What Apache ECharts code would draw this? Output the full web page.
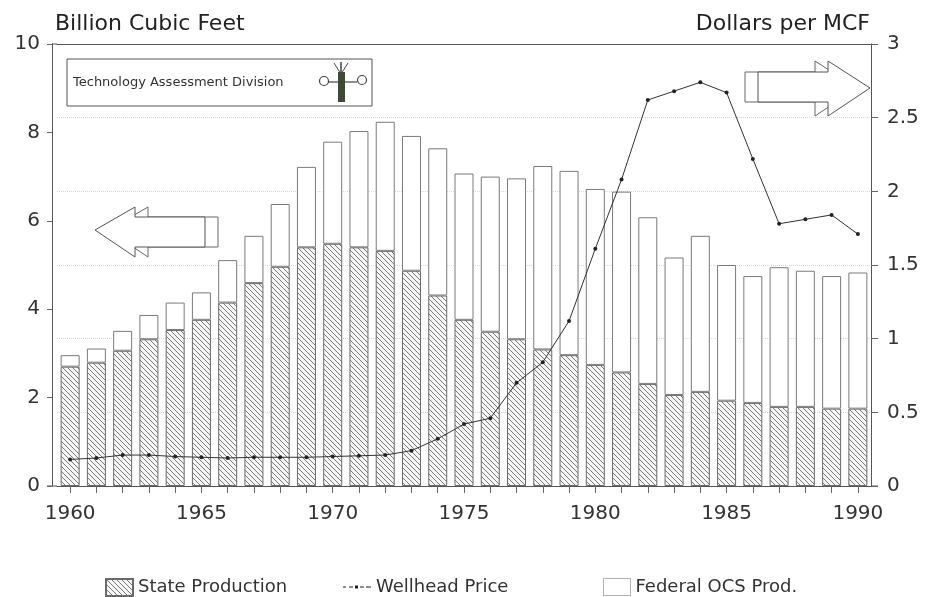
<!DOCTYPE html>
<html>
<head>
<meta charset="utf-8">
<script src="https://cdn.jsdelivr.net/npm/echarts@6/dist/echarts.min.js"></script>
<style>
  html, body { margin: 0; padding: 0; background: #fff; }
  #chart { width: 931px; height: 597px; }
</style>
</head>
<body>
<div id="chart"></div>
<script>
// years on the category axis
const years = ['1960', '1961', '1962', '1963', '1964', '1965', '1966', '1967', '1968', '1969',
  '1970', '1971', '1972', '1973', '1974', '1975', '1976', '1977', '1978', '1979',
  '1980', '1981', '1982', '1983', '1984', '1985', '1986', '1987', '1988', '1989', '1990']

// billion cubic feet
const stateProd = [2.70, 2.79, 3.06, 3.32, 3.53, 3.76, 4.15, 4.59, 4.96, 5.40,
  5.48, 5.40, 5.32, 4.87, 4.31, 3.76, 3.49, 3.32, 3.09, 2.96,
  2.74, 2.57, 2.31, 2.06, 2.13, 1.93, 1.88, 1.79, 1.79, 1.75, 1.75]
const federalProd = [0.26, 0.32, 0.45, 0.55, 0.62, 0.62, 0.96, 1.07, 1.42, 1.82,
  2.31, 2.63, 2.92, 3.05, 3.33, 3.31, 3.51, 3.64, 4.15, 4.17,
  3.98, 4.09, 3.77, 3.11, 3.53, 3.07, 2.87, 3.16, 3.08, 3.00, 3.08]

// dollars per MCF
const wellheadPrice = [0.18, 0.19, 0.21, 0.21, 0.20, 0.195, 0.19, 0.195, 0.195, 0.195,
  0.20, 0.205, 0.21, 0.24, 0.32, 0.42, 0.46, 0.70, 0.84, 1.12,
  1.61, 2.08, 2.62, 2.68, 2.74, 2.67, 2.22, 1.78, 1.81, 1.84, 1.71]

// hatch fill for state production
function hatch() {
  const s = 5
  const c = document.createElement('canvas')
  c.width = s
  c.height = s
  const ctx = c.getContext('2d')
  ctx.fillStyle = '#f6f6f6'
  ctx.fillRect(0, 0, s, s)
  ctx.strokeStyle = '#7a7a7a'
  ctx.lineWidth = 1
  for (let k = -1; k <= 1; k++) {
    ctx.beginPath()
    ctx.moveTo(k * s, 0)
    ctx.lineTo(k * s + s, s)
    ctx.stroke()
  }
  return c
}

const font = 'DejaVu Sans'
const hatchFill = { image: hatch(), repeat: 'repeat' }
const myChart = echarts.init(document.getElementById('chart'))

// 3d-ish block arrows of the original slide
function arrow(points, dx) {
  const back = points.map(p => [p[0] + dx, p[1]])
  return [
    { type: 'polygon', shape: { points: back }, style: { fill: '#fff', stroke: '#666', lineWidth: 1 }, z: 20 },
    { type: 'polygon', shape: { points: points }, style: { fill: '#fff', stroke: '#555', lineWidth: 1 }, z: 21 }
  ]
}
const leftArrow = [[95, 230], [135, 207], [135, 217], [205, 217], [205, 247], [135, 247], [135, 257]]
const rightArrow = [[870, 88], [828, 61], [828, 72], [758, 72], [758, 102], [828, 102], [828, 116]]
// dash-dot-dash legend mark for the price line
const priceIcon = 'path://M0,1h3v1h-3z M6,1h4v1h-4z M12,0h3v3h-3z M17,1h4v1h-4z M23,1h5v1h-5z'
const legendText = { fontFamily: font, fontSize: 18, color: '#333' }

myChart.setOption({
  backgroundColor: '#fff',
  animation: false,
  title: [
    { text: 'Billion Cubic Feet', left: 50, top: 8, textStyle: { fontFamily: font, fontSize: 22, fontWeight: 'normal', color: '#222' } },
    { text: 'Dollars per MCF', right: 56, top: 8, textStyle: { fontFamily: font, fontSize: 22, fontWeight: 'normal', color: '#222' } }
  ],
  grid: { left: 57, right: 60, top: 44, bottom: 111 },
  legend: [
    { data: [{ name: 'State Production', icon: 'rect' }], left: 100, top: 573, itemWidth: 27, itemHeight: 17, textStyle: legendText },
    { data: [{ name: 'Wellhead Price', icon: priceIcon }], left: 338, top: 573, itemWidth: 28, itemHeight: 17, textStyle: legendText },
    { data: [{ name: 'Federal OCS Prod.', icon: 'rect', itemStyle: { color: '#fff', borderColor: '#666', borderType: 'dotted', borderWidth: 1 } }],
      left: 598, top: 573, itemWidth: 27, itemHeight: 17, textStyle: legendText }
  ],
  xAxis: [
    {
      type: 'category',
      data: years,
      axisLine: { onZero: false, lineStyle: { color: '#555' } },
      axisTick: { show: true, alignWithLabel: true, interval: 0, length: 7, lineStyle: { color: '#666' } },
      axisLabel: { interval: 4, fontFamily: font, fontSize: 20, color: '#333', margin: 18 },
      splitLine: { show: false }
    },
    {
      // top frame line
      type: 'category', position: 'top', data: years,
      axisLine: { show: true, onZero: false, lineStyle: { color: '#555' } },
      axisTick: { show: false }, axisLabel: { show: false }
    }
  ],
  yAxis: [
    {
      type: 'value', min: 0, max: 10, interval: 2, offset: 5,
      axisLine: { show: true, lineStyle: { color: '#555' } },
      axisTick: { show: true, length: 5, lineStyle: { color: '#666' } },
      axisLabel: { fontFamily: font, fontSize: 20, color: '#333', margin: 12 },
      splitLine: { show: false }
    },
    {
      type: 'value', min: 0, max: 3, interval: 0.5, position: 'right',
      axisLine: { show: true, lineStyle: { color: '#555' } },
      axisTick: { show: true, length: 7, lineStyle: { color: '#666' } },
      axisLabel: { fontFamily: font, fontSize: 20, color: '#333', margin: 16 },
      splitLine: { show: true, lineStyle: { color: '#d8d8d8', type: 'dotted' } }
    }
  ],
  graphic: [
    { type: 'line', shape: { x1: 52, y1: 44, x2: 57, y2: 44 }, style: { stroke: '#555', lineWidth: 1 } },
    { type: 'line', shape: { x1: 47, y1: 486, x2: 57, y2: 486 }, style: { stroke: '#555', lineWidth: 1 } },
    { type: 'line', shape: { x1: 871, y1: 486, x2: 878, y2: 486 }, style: { stroke: '#555', lineWidth: 1 } },
    { type: 'rect', shape: { x: 67, y: 59, width: 305, height: 47 }, style: { fill: '#fff', stroke: '#555', lineWidth: 1 }, z: 20 },
    { type: 'text', x: 73, y: 83, style: { text: 'Technology Assessment Division', font: '13px "DejaVu Sans"', fill: '#333', verticalAlign: 'middle' }, z: 21 },
    // little emblem next to the division name
    { type: 'circle', shape: { cx: 324, cy: 81, r: 4.5 }, style: { fill: 'none', stroke: '#444', lineWidth: 1.2 }, z: 21 },
    { type: 'circle', shape: { cx: 362, cy: 80, r: 4.5 }, style: { fill: 'none', stroke: '#444', lineWidth: 1.2 }, z: 21 },
    { type: 'line', shape: { x1: 328, y1: 82, x2: 357, y2: 82 }, style: { stroke: '#444', lineWidth: 1.2 }, z: 21 },
    { type: 'rect', shape: { x: 338, y: 72, width: 7, height: 30 }, style: { fill: '#3d4a35' }, z: 21 },
    { type: 'polyline', shape: { points: [[334, 63], [341, 74], [341, 62], [341, 74], [348, 63]] }, style: { stroke: '#444', lineWidth: 1, fill: 'none' }, z: 21 }
  ].concat(arrow(leftArrow, 13), arrow(rightArrow, -13)),
  series: [
    {
      name: 'State Production',
      type: 'bar',
      stack: 'gas',
      barWidth: 19,
      data: stateProd,
      itemStyle: { color: hatchFill, borderColor: '#6a6a6a', borderWidth: 1 }
    },
    {
      name: 'Federal OCS Prod.',
      type: 'bar',
      stack: 'gas',
      barWidth: 19,
      data: federalProd,
      itemStyle: { color: '#fff', borderColor: '#7a7a7a', borderWidth: 1 }
    },
    {
      name: 'Wellhead Price',
      type: 'line',
      yAxisIndex: 1,
      data: wellheadPrice,
      symbol: 'circle',
      symbolSize: 4,
      lineStyle: { color: '#333', width: 1 },
      itemStyle: { color: '#222' },
      z: 5
    }
  ]
})
</script>
</body>
</html>
